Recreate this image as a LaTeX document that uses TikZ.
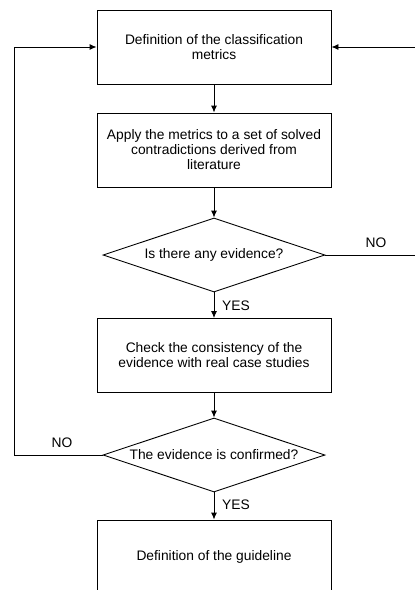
\documentclass[tikz,border=0pt]{standalone}
\usepackage{fontspec}
\setmainfont{Liberation Sans}
\usetikzlibrary{arrows.meta,shapes,positioning,calc}

\begin{document}
\begin{tikzpicture}[x=1pt, y=-1pt, line width=0.9pt,
    box/.style={rectangle, draw, minimum width=234pt, minimum height=74pt,
        align=center, font=\fontsize{13.8}{15}\selectfont},
    question/.style={diamond, draw, shape aspect=3, inner sep=0pt,
        minimum width=222pt, minimum height=74pt,
        font=\fontsize{13.8}{15}\selectfont},
    flow/.style={-{Latex[length=7pt,width=6pt]}},
    answer/.style={font=\fontsize{13.8}{15}\selectfont}]
    \useasboundingbox (0,0) rectangle (415,590);

    % Steps
    \node[box] (metrics) at (214, 47) {Definition of the classification\\metrics};
    \node[box] (apply) at (214, 150) {Apply the metrics to a set of solved\\contradictions derived from\\literature};
    \node[question] (evidence) at (214, 255) {Is there any evidence?};
    \node[box] (check) at (214, 355.5) {Check the consistency of the\\evidence with real case studies};
    \node[question] (confirmed) at (214, 455) {The evidence is confirmed?};
    \node[box] (guideline) at (214, 557) {Definition of the guideline};

    % Feedback corners
    \coordinate (right) at (420, 255);
    \coordinate (left) at (14, 455);

    \draw[flow] (metrics) -- (apply);
    \draw[flow] (apply) -- (evidence);
    \draw[flow] (evidence) -- (check);
    \draw[flow] (check) -- (confirmed);
    \draw[flow] (confirmed) -- (guideline);
    \draw[flow] (evidence.east) -- (right) |- (metrics.east);
    \draw[flow] (confirmed.west) -- (left) |- (metrics.west);

    % Answers
    \node[answer] (yes1) at (236, 306) {YES};
    \node[answer] (yes2) at (236, 505) {YES};
    \node[answer] (no1) at (376, 243) {NO};
    \node[answer] (no2) at (62, 443) {NO};
\end{tikzpicture}
\end{document}
